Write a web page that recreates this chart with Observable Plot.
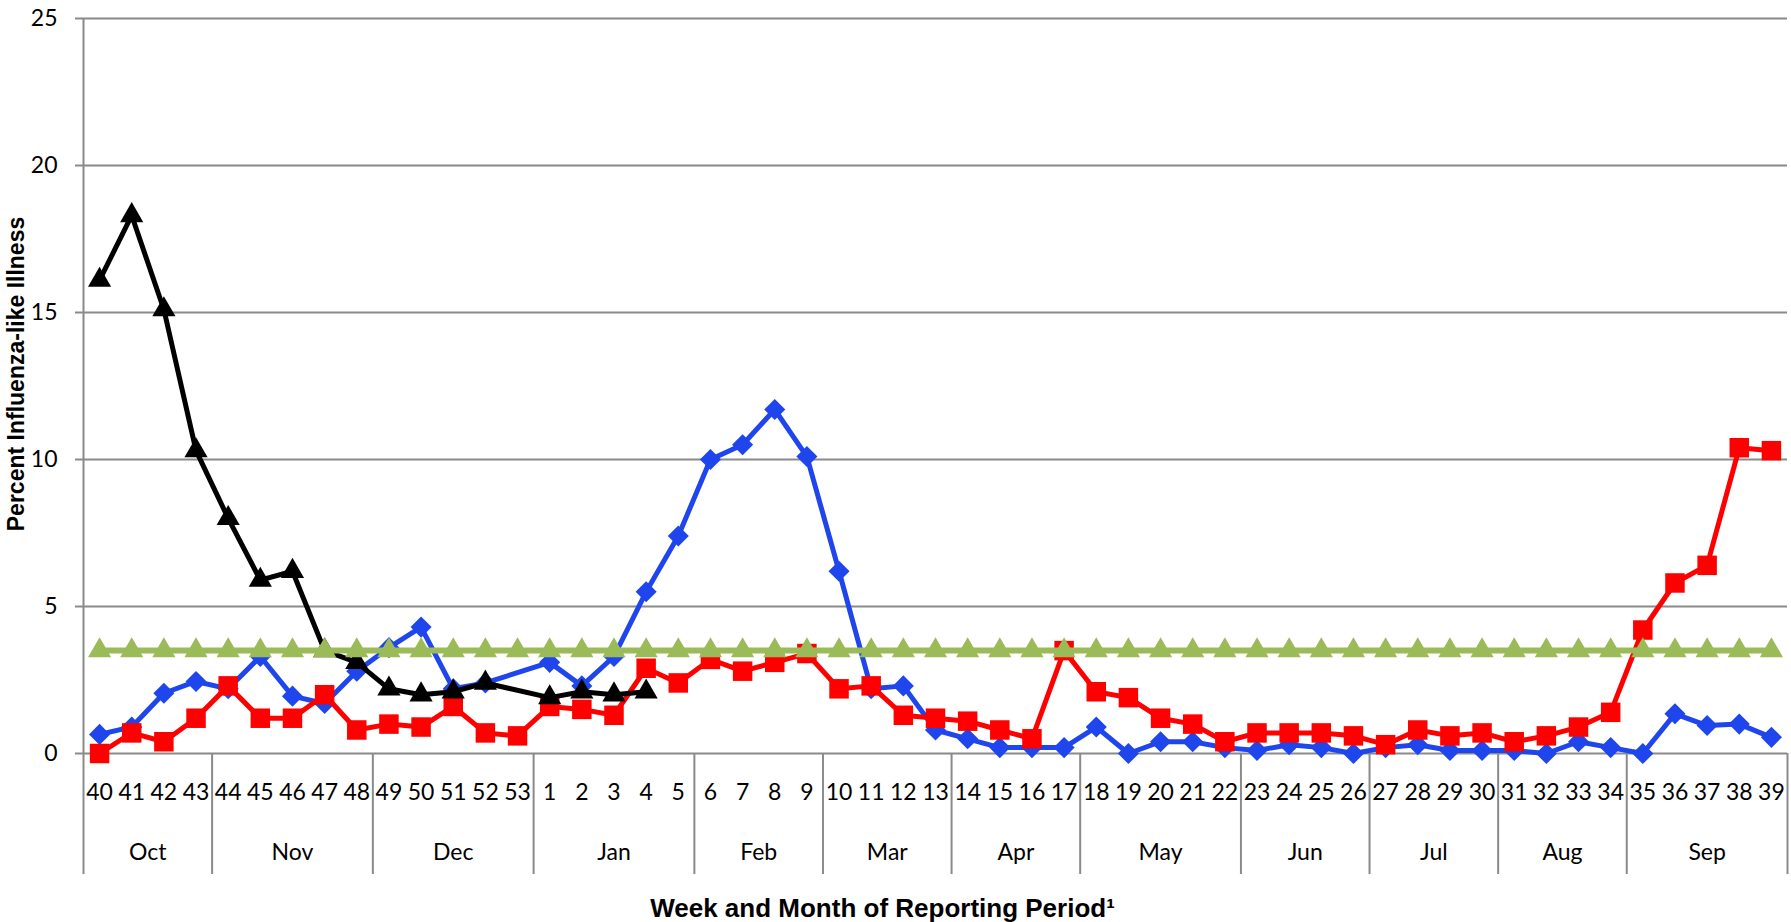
<!DOCTYPE html>
<html><head><meta charset="utf-8">
<script src="https://cdn.jsdelivr.net/npm/d3@7"></script>
<script src="https://cdn.jsdelivr.net/npm/@observablehq/plot@0.6"></script>
<style>body{margin:0;background:#fff}</style>
</head><body><div id="chart"></div>
<script>
const weeks = ["40","41","42","43","44","45","46","47","48","49","50","51","52","53",
  "1","2","3","4","5","6","7","8","9","10","11","12","13","14","15","16","17","18","19","20",
  "21","22","23","24","25","26","27","28","29","30","31","32","33","34","35","36","37","38","39"];
const months = ["Oct","Nov","Dec","Jan","Feb","Mar","Apr","May","Jun","Jul","Aug","Sep"];
const weeksPerMonth = [4,5,5,5,4,4,4,5,4,4,4,5];
const yTicks = [0,5,10,15,20,25];

// current season (black triangles), weeks 40..4
const currentSeason = [16.1,18.3,15.1,10.3,8.0,5.9,6.2,3.5,3.1,2.2,2.0,2.1,2.4,null,1.9,2.1,2.0,2.1];
// previous season (blue diamonds)
const seasonBlue = [0.65,0.9,2.05,2.45,2.2,3.3,1.95,1.7,2.8,3.6,4.3,2.2,2.4,null,
  3.1,2.3,3.3,5.5,7.4,10.0,10.5,11.7,10.1,6.2,2.2,2.3,0.8,0.5,0.2,0.2,0.2,0.9,0.0,0.4,
  0.4,0.2,0.1,0.3,0.2,0.0,0.2,0.3,0.1,0.1,0.1,0.0,0.4,0.2,0.0,1.35,0.95,1.0,0.55];
// season (red squares)
const seasonRed = [0.0,0.7,0.4,1.2,2.3,1.2,1.2,2.0,0.8,1.0,0.9,1.6,0.7,0.6,
  1.6,1.5,1.3,2.9,2.4,3.2,2.8,3.1,3.4,2.2,2.3,1.3,1.2,1.1,0.8,0.5,3.5,2.1,1.9,1.2,
  1.0,0.4,0.7,0.7,0.7,0.6,0.3,0.8,0.6,0.7,0.4,0.6,0.9,1.4,4.2,5.8,6.4,10.4,10.3];
// baseline (green triangles)
const baselineValue = 3.5;
const baseline = weeks.map(() => baselineValue);

const xTitle = "Week and Month of Reporting Period\u00B9";
const yTitle = "Percent Influenza-like Illness";

const toPoints = vals => vals.map((v, i) => ({x: i + 0.5, y: v})).filter(d => d.y != null);

// month boundaries and centers (in week-index units)
const boundaries = [0];
weeksPerMonth.forEach(n => boundaries.push(boundaries[boundaries.length - 1] + n));
const monthLabels = months.map((m, i) => ({x: (boundaries[i] + boundaries[i + 1]) / 2, name: m}));
const weekLabels = weeks.map((w, i) => ({x: i + 0.5, name: w}));

const gray = "#8a8a8a";
const tickFont = "Lato, 'Open Sans', 'Liberation Sans', Arial, sans-serif";
const titleFont = "'Liberation Sans', Arial, sans-serif";
const blue = "#1f45ec", red = "#ff0000", green = "#9bbb59";

function series(vals, color, symbol, r, sw) {
  const pts = toPoints(vals);
  return [
    Plot.line(pts, {x: "x", y: "y", stroke: color, strokeWidth: sw, strokeLinejoin: "round"}),
    Plot.dot(pts, {x: "x", y: "y", symbol, r, fill: color, stroke: "none"})
  ];
}

const chart = Plot.plot({
  width: 1791,
  height: 922,
  marginTop: 18,
  marginBottom: 169,
  marginLeft: 83,
  marginRight: 4,
  style: {fontFamily: tickFont, fontSize: "23px", color: "#000", background: "#fff"},
  x: {type: "linear", domain: [0, weeks.length], axis: null},
  y: {domain: [0, 25], axis: null},
  marks: [
    Plot.gridY(yTicks, {stroke: gray, strokeOpacity: 1, strokeWidth: 2}),
    Plot.axisY(yTicks, {label: null, tickSize: 8, tickPadding: 18, stroke: gray, strokeWidth: 2, fontSize: 23, fontFamily: tickFont}),
    Plot.ruleX([0], {stroke: gray, strokeWidth: 2}),
    Plot.axisX(boundaries, {label: null, tickSize: 121, tickFormat: () => "", stroke: gray, strokeWidth: 2}),
    Plot.text(weekLabels, {x: "x", text: "name", frameAnchor: "bottom", dy: 39, lineAnchor: "middle", fontSize: 23, fontFamily: tickFont}),
    Plot.text(monthLabels, {x: "x", text: "name", frameAnchor: "bottom", dy: 99, lineAnchor: "middle", fontSize: 23, fontFamily: tickFont}),
    ...series(seasonBlue, blue, "diamond2", 9.5, 5),
    ...series(seasonRed, red, "square", 11, 5),
    ...series(currentSeason, "#000", "triangle", 8.6, 5),
    ...series(baseline, green, "triangle", 8.6, 6),
    Plot.text([xTitle], {frameAnchor: "bottom", dx: -53, dy: 155, lineAnchor: "middle", fontSize: 26, fontWeight: "bold", fontFamily: titleFont}),
    Plot.text([yTitle], {frameAnchor: "left", dx: -67, dy: -12, rotate: -90, textAnchor: "middle", lineAnchor: "middle", fontSize: 23, fontWeight: "bold", fontFamily: titleFont})
  ]
});
document.getElementById("chart").appendChild(chart);
</script>
</body></html>
